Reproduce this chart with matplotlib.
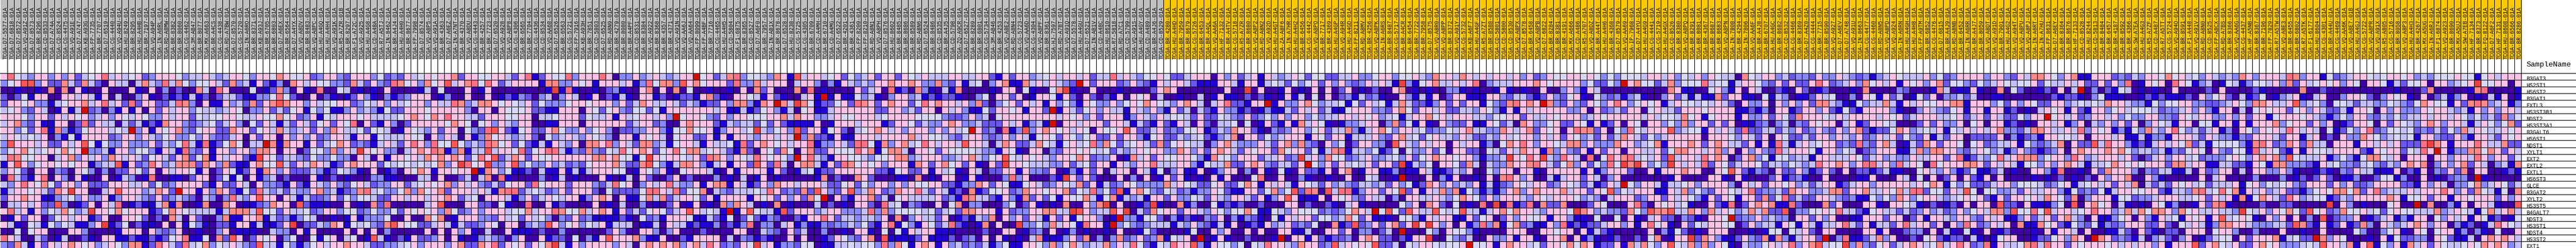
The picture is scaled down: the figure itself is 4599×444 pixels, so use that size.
import numpy as np
import matplotlib
matplotlib.use("Agg")
import matplotlib.pyplot as plt
from matplotlib.colors import ListedColormap, BoundaryNorm

GENES = ["B3GAT3","HS2ST1","HS6ST2","B3GAT1","EXTL3","HS3ST3B1","NDST2","HS3ST3A1","B3GALT6","HS6ST1","NDST1","XYLT1","EXT2","EXTL2","EXTL1","HS6ST3","GLCE","B3GAT2","XYLT2","HS3ST5","B4GALT7","NDST3","HS3ST1","NDST4","HS3ST2","EXT1"]

SAMPLES_GRAY = """D7-5577 D7-6818 D7-8572 VQ-A91Z D7-8573 BR-8296 CD-8533 D7-A74A CD-8524 CG-4475 VQ-A91E D7-A747 KB-A93G FP-7735 BR-7707 D7-6519 CG-4440 VQ-A94U HU-8249 BR-8295 HU-A4HB BR-7197 VQ-A94P IN-A6RL RD-A8MW BR-8382 BR-8060 CG-4462 3M-AB47 BR-8077 MX-A663 BR-A4CS CG-4438
RD-A7BW D7-8570 CG-5720 IN-A6RO BR-8371 KB-A93J BR-6705 BR-6803 D7-A6EX BR-6564 D7-A4YX VQ-A8DV BR-8483 VQ-A8PC HU-A4GQ HU-A4H4 VQ-A91K R5-A7ZR-01B BR-8297 F1-A72C VQ-A925 HU-A4G8 CD-A48A R7-A5TJ IN-8462 BR-A4J4 HU-A4H0 BR-8677 FP-7998 D7-8574 VQ-A8P5 VQ-A91A BR-4363 D7-A6EZ IN-A7NT BR-4370
VQ-A8DU CG-4443 BR-4257 BR-7723 D7-6520 VQ-A928 VQ-A8P8 CG-4306 BR-6565 BR-7704 CG-4436 CD-8534 VQ-AA68 D7-6526 BR-6563 CG-5721 FP-7916 KB-A93H BR-7851 CD-5803 D7-6525 RD-A8N9 BR-4279 BR-8080 BR-A4PF CD-8531 BR-8384 VQ-A922 BR-8368 BR-4357 BR-4371 VQ-A91N VQ-AA6J VQ-AA64 FP-8099 FP-A4BF
BR-7716 CG-4465 HU-A4H5 CD-5804 F1-6875 BR-8365 CD-8527 D7-A6F0 BR-7957 IN-AB1X BR-8678 D7-6528 HU-8238 CG-5725 CG-4305 BR-6709 CD-A4MH BR-6710 CD-A4MG D7-6522 BR-4201 BR-4361 FP-8209 FP-8210 RD-A8N1 VQ-A8PH D7-8576 HU-8602 BR-8485 BR-8686 BR-8589 RD-A8N6 D7-6524 BR-8486 CD-8535 BR-A4J5
CD-5798 ZQ-A9CR D7-6527 BR-8289 BR-6801 CG-5734 3M-AB46 BR-4253 VQ-A8E2 RD-A8N4 CG-5723 VQ-AA6D CG-4304 VQ-A8PF BR-8361 HJ-7597 RD-A7BT VQ-A91Q D7-5578 HU-A4GU D7-6521 IN-AB1V CD-A48C HU-8610 R7-5818 RD-A7C1 CD-5799 VQ-A91S HU-A4GY CD-A489 BR-A4J6 CD-8529""".split()

SAMPLES_GOLD = """BR-4280 HU-A4HD BR-7959 BR-8679
CG-5726 BR-6453 BR-A4QL VQ-AA6A HF-7132 BR-A4TV CG-5718 R5-A7ZR BR-8680 VQ-A8P2 RD-A8N2 VQ-A92D HU-A4GT ZA-A8F6 IN-A7HR HU-A4H2 BR-6456 CG-4442 VQ-A8PO BR-7717 BR-4369 HU-A4GP VQ-A94R HU-A4GD FP-8211 RD-A8MV BR-4256 VQ-A8PK IN-A6RS BR-8487 CG-5717 BR-A4CR BR-6454 BR-7722 BR-7958 D7-8575
VQ-A8R0 VQ-A8PP BR-8372 VQ-A91Y CG-5732 KB-A6F7 HU-A4GF R5-A7ZT BR-8588 CD-5801 CD-5800 CD-8530 VQ-A8PX D7-8578 BR-6458 VQ-A8PB D7-6822 BR-8284 BR-8381 BR-4191 MX-A666 CD-A486 R5-A707 VQ-A8DZ BR-A44T HU-A4H6 BR-4368 D7-8579 VQ-AA69 IP-7968 D7-A4YU HU-A4G9 CG-4441 CG-5719 HU-A4GX CD-8526
BR-8380 VQ-A8PQ BR-8291 BR-8081 BR-4367 BR-8687 BR-8683 VQ-A8PN IN-7808 BR-4294 IN-7806 VQ-AA6F BR-A4J8 BR-6707 HU-A4GC BR-8682 CD-8532 CG-4466 BR-8369 D7-A4Z0 CG-4444 BR-7715 BR-8590 VQ-A927 D7-A6EV D7-A748 VQ-A91U IN-8663 CG-4477 CG-4460 RD-A8N5 VQ-A8PD VQ-A924 IN-A6RN HU-A4GH HU-A4H8
FP-A9TM BR-6852 CG-4476 D7-6815 BR-A4J9 RD-A8NB BR-6452 IN-A6RR BR-A4J7 BR-8059 VQ-A8DT VQ-A91D BR-7901 HU-A4G2 VQ-A94T VQ-A8PU VQ-A8PJ IN-A6RT IN-A7HU FP-8631 D7-A6EY BR-8364 BR-8676 HF-7133 CD-8528 HU-8244 CD-5813 BR-8484 BR-6457 BR-4187 BR-8592 BR-4366 SW-A7EA HU-A4G3 R5-A7ZF CD-A487
R7-A5TT CG-5724 VQ-A94O BR-8591 F1-A448 VQ-A91V RD-A8N0 CD-8525 FP-A8CX RD-A7BS BR-8366 VQ-AA6G CG-4437 HF-A5NB BR-8367 BR-7196 FP-7829 R7-A5TW VQ-A8E3 BR-6455 BR-6802 R7-A5TK F1-6177 HU-8604 CG-4301 BR-A44U CG-4469 VQ-AA6K VQ-A8E7-01B HU-A4GJ CG-5722 VQ-A8PR VQ-A91X R5-A805 CG-5716 BR-8058 VQ-A8P3
HU-A4H3 BR-4267 MX-A5UG IN-A6RJ F1-6874 VQ-A923 BR-8690 MX-A5UJ SW-A7EB HF-7134 BR-8373 FQ-8122 D7-A6F2 HF-7131 HU-8608 BR-6566 BR-8286""".split()

# Expression bins, one letter per cell, in column blocks.
BLOCK_1 = """prvclpplpl pmcvprcpcv pmlpppvlcc pcl
lvpoolpmms cmscmdpccd csclrcsvlv vpc
ddbddbdsds dpbddpdddp bdpdldmdds cdr
mdmvbppddp pcpcbpdcdd lpbdmbmbcb mdm
mppvpllbcv ppscprcpmr mppmmcrsld pbb
cvplmpcdbp bcxmldlbpb pdpmpcpplv ccl
pppvlppmpc pvplcplpvc pvllpcppmv cvv
cpslmpbbpp dmrmpccdcm cbmbspplml cvm
pplvmprbsl bmvpppcvcx lpbpvpslmv ppm
cpvcvcpdlb vbppppmlpp lpclvpllvl plm
lopppcpmmp cpovbvllpl llpmclvrcb rbm
lvpsvcvpvs vpxllcbppl vvlbpcbrlm pbp
crsvvppdcp slpcplspcp cmvpcmpsmv sbp
bpoplvppvp vppblccobp mlrplcsssm spl
lpvmdppdlm dpvldldmmp vmpdpcppvb pdm
drcmbprdpl dpbddpdbcl dbrddbbdmp pdm
clprpvsvmp plpmmmpppc cpmvmlpppp mbp
bcppvpcmsp eppddcpopp plcspmxppb pls
mppsppbblc vlpllpblpp clmpmlclmd cld
dccpcpmmol dbmpdpcrdb mbbcsbsddb sdd
prcpbplvcs vlceppvsvp ppbmvspvcc ccb
dbpmppdmvp cppbmpddpp vmdmdscdpm ddl
pcbdvcbvlv cbblpebmvd mbbdpdpbvl bdm
ddvdvppddd pplddddbpp pdplmlpddb ddl
rpcddcmdbc ddmbdppbbm bbmbmvprbb vds
lmscbpmpcp spvplcpvls sbmrpcmrcv slv"""

BLOCK_2 = """cppvlppvsp vvpmlpplmp pplvmlmpcv pvppsm
mslcbpmbld spcpvvllms cmplmrsvpl svpocp
pdddvdbmsl dpbdrddvcd bdbdpddddb cdvddd
ccmbbllvrv mddpdmbdbm plbdlbmlpp pdbldd
plcmsmpsos pplpcvvppm lvcplpcvpp lpccrs
cpvdllpmcm vpbvlvbblp lclbvmmppp vppppp
ppvccpvvsv pmlpbvcppp vpccccvpsp vsprpp
cpldvmpcbc mpcmvpmpvr dpmbpldmpp pppvsp
msppmvpcsc lcpmplspcc vmvvcdbpvc lpmppd
mcpdpmppdp lplpmlppcb ppbvcccpvv dplpcd
vsvdccxsbs ppbpmcvspm lmbcpcmprp lrvvov
plpplsspdp pdmvvlslpc epvplldcps prsbls
cppmbepvmc clmvllvlld pcdpbppvpc spspsp
smbbpsvvoc mpcspcbmps pppmvcvvcv cvslpe
pvbmpbsplp mmmclbmvcl bdpdbmdpvs pbppvp
vbvdpblcdm dddpbdmdbd ddllbbdddc cdpddm
mmpcdpllmb pmbpclplmv pcmllppmcv pvpslp
pmbvmrclcm cllpslcbml srcvllvsls vpsmpp
lrclpoppdp cbcmmlpmvl vvcmmppcpp cppspm
spdbbmlspp dombbbddpd bdsmrddddd cpoddd
cssscovvmp ccvmlpplvv mlvllvmpvp vplsvm
sbbppsbcml blvcddbdbp blllvddpdd svsdbp
mbppbcbbmp edmmclspbv cvlmsopvvm mcpcbc
pdbbbddcll dpbpddddpd pdpdlddddd pdpdpl
mopdmpvpdl vddvbvpdcv dbocbdmbpm mlpdpb
cpclmoccbv lblvpcppsp pcmmllcvpl ppplps"""

BLOCK_3 = """ppvvppcmpr bmpvvrlppp rpdllplcpc lcppxv
srvrpmcppp pbssllpvpb pppcpblrvs slopsv
pdbpdddddd ddbebrbddb dmlbddpsdp dsdvdd
pddpdbmblm dlcdlpcdbp dmbcbdppbm dbmmbp
lcsspvpvcp mvlllvppvp pplpmcspcc pcmclb
ldppdpvvvp mmbbpppdpv mvplmvvmvb pppppp
ccmpppvvpp dccvpppmvc cpbpcvppcp lxvppv
vdvplpclpp ddbbpppdpp ppppmcppml ddpspp
vlmropmbvp mmpsvllplv pldmmllppl bvvsvv
pblsvpclcp mdvlcpclpv cldppbpvpc dvppmm
lclrsvpmvm bcbpclpdss prlpcmsslc bvppcb
bccocppvrm vprrcblmsl mvcrvpspmv prvssc
mvrpomcspm pvvpppppps spsvvbvepv ppvcpm
rvpellpolv llplcmlmvp ppscmmsovl bcsspl
pxbsplvbbm dcbbpbcbcp ppvvdbpvlp bdvppp
cdcsdrbddd dldbcdbddd pbdbcdpmdd mpdmdd
cplmcmvppm rvpppmpppl mcrvpdlpcp rcllpb
pcpcbsrrmc vcmlpmpppm dvmmmmvrrp crmvvs
cvdpppcblp mcpvcppblp spdpbbvscs mcppvm
ppmmdvbddr ddpbmddddp dbdcddldbd mpdbpd
lplpppcvvs cpprsvvscp spbpmcmvpv mcpopc
ppllmpcvmp cvldlmpmlb bbbmbdvmlb pppvbb
mmlpvdppdl cloplvplvc pbcccdbbcd pccbmb
pbdcddpbbb dmddlddddd dmplddppld lpdddm
dblclmdlpd dpbmmdvdlb popppslbbp ddmbpp
mmsprmpvpm pvsecbplpp pplpcdpsps pslpsc"""

BLOCK_4 = """pmcsrlvvcl spbocppcvp mvlcpmppmp vcpccc
pppmrllscp ppdcppldlb pclclppspp spllsl
bddbdpdsmp dddsdrdbdd ddpmcpdrbm dslbdc
smbdppvcbp mbddcpbxbp bbvlcbdlpp lcbmbm
mmplsslbsp xscesvbmmv pmrspmpspp mvrpsp
pcpbbcbmvp lbcdvpbbcp pppppmmppl cmppdp
lmplppvvvp pscsppllcp vvpppcvppp pvvvvl
pmbclccmvm pmbbbbpdbp ppcpppbmpp vmcllp
pblppcvecl vplomppbvp mdcvpspcpl ppplpl
pbpbppclpp cpcxlsmmbp bbpppcpppp scpvvc
pccvbrmpsp vpcpprbllp cmrrvbslps cvrpcp
vpcmbsmdpv msvdpsmmpv vvrpsbvssc dppvmp
rsplpvcrpv pvlxprclbp pvvclvvpss lcpppl
bcpbppmopm rcdpsscbpm rsvpvplppp bspmps
cbdpbppppb pmdbcvbmmp pppppmmbvp mmpbpc
dldbdcdbpd bdddddbsdm ddspmdddbb dsdbdp
pssbpcbmpl sppcpppcmm vpmvlpplpl pvvppm
dclmcccvcr pmlmsmoplm polcspmlsp prcmpc
pbppppbpvp mplpmsvxdp mbppsmcdvp ccccpm
bdslspcdbd sdbdddcdmd bdppmdrcvd lmddpd
vcbxbpovcc bomppplcpp lllcrlslvv vvcvmc
cmbvdmvmbl mddmbpprpm cclcclpdsd lpccmp
bldmblrdll dcpblbblml lclvmbprbv lbpvmc
ddddppddcl mdpmcddldd bdppbdvdvb pcppbb
ppdcdlmbmb ddpdpddbmp vlmpsdobbb bmpbbb
rpmlmpvecp bllmvvdbbc cvcvvlrlsv bpspbp"""

BLOCK_5 = """ppccppmbpm pplcvpcppc pmccrcpclv vpvmmc
mpbcvdlpsb bscpcpclmx pmpppmlplm bpcppc
bsddddbdpp dvbddvsebd dpdddbdddd mpspdd
mbddlvdppm pdbppvbpmd pmdmbpdpvp dcddbd
pcplsmdlvp mpcpbplvlb pvllplvpvs pvclps
cplbbvmppv pbppmxbpcm vplpccbpcl plbpmc
mmlplcdvpp ppppppcpvp lpmpppblpc lpcvvc
spllcmmmpc pblcbxdppc pppmppcbcm bpmbpc
pcvxpmldrb lolpspvpcp vdpvvpopmm cpmlmv
lmcpplmlpl pcbvpvmpvl vpmmpmpplb vpmmcl
pcoppcdcsp mmcsvcbvpc vrlsvmcvpc msmvpv
vvvvcllbpv bdppdlmppv pvcvmclcpv ppllsp
lcpsclvpov cpvpclppvs pmllpdbscp mpvvpp
vpmpbdpmep pvcccllpmc vmppbpclpp rcccpp
vbdpcdmmpp bpllmpdblb pmpdcppdpc bvdlpb
pdbpbdddlr lpdddmbepm pmdddpdldp dbpmpb
mbllspmpvb bvpcmlpvcs mpbcmlpvll llscpv
bmdsbmvvpm lsppvppsmv crlvmobpsv lmvcml
lbrsccmbpl bsmpmvbpvv scbvsbclcb ppmpll
vsdllddd lv dmpbdbdsdd plsedpddbm ebddsb
vmsspppbpm llppsscceo plccopedcm svppmp
dbmbclsdpl pmpcbpmpbv ppldbxllbv vmdlbm
rmbdbsdpdd ellvlscpvb rppbxlvlml cccbcl
bddddmddpp dbmldpdbld bddbdpddbv mddddb
mdmldpdpbd bdcsbbblpm sdldlsmlpm lsbvcp
lcmlmcblvb bppvlslvsc lccslpcrvm bvcrpp"""

BLOCK_6 = """pppdplpmcp bpclcpvmvv mmccpllvpp lvvpcl
mbbbppcbpp bcvcmvlvpm plplmlpcpc belbvp
dddddpdded pddbpdbdpd pdmpdbdmdd psdbdb
dcdbpbbdmd mbdbpbcdvd pdmlbcmlbd dplbcb
pcdcprmmbp pxbpllpsvl ccvbvmpcvb cscmmb
dcmbpllbmd blbbcmpcpm cbbvpppllm psvmpp
mpmmvclmpm lvlplpplvl ccppcpvplc vbcpps
dpmdccvdvd bpmbpbscpv bdbllcppdl smvbpb
vpbmclsppm bdlmlpplvp mccslbcpsv lppcvm
cvmblcsdpp mvlcpppbpv mppbcccplm pscvmv
ccdlpsclll pcmpslslmd plvdmpplld opclpc
lpmpspcmpv ppmsvppmvb csrbcclvbm vdvllp
vlbsvvlppp mccpmlecpl svvmlcpllc vlpmvp
lbvccsmmps plmccmpxvl pmpcvcpmpp mebclv
bpdblppdld pbdvbdpmmb pdpsdbppbb ldbbpc
dbdpbpdddv rddpddlbdd bddpddvcdd bxdddp
cmmvpmmvsp bpcpcbpvcm plclmcclcm plvbms
bllpvmbbpp mvslvomrsd ocrrblppmp vompbp
vcmpclppcm pblpopbbbp dpvplmpccd ldppcc
lddvbmbmdd mdddppdmdd mbdcpbdddd dvlpds
pclpvlvvsv bbvclpvvvm lmlvspcxvo vmopcc
bdlmpdlblm bdvbpcppmv vlcsvmpbbb dvvlbp
plmbcbpdbm bplcpmlmvd dsbmomlpmp smpepe
vddplpddpd pddppbbcdd ppmpdlldmc dxdddv
dxdbpbddmd ddbxdppbpm bmmldpspmm dmbppe
olbpvvlvdv crppclsppm locpvpvomm cdvcpp"""

BLOCK_7 = """sppcspcpcp pcplpmlpvv ppvpvlvlvv vcppcp
sccpcprdlc ccpppspvpp pplvmmvlxp svvmcs
ddllbdbddb pbdbddpddl plbpcddddd ddddds
pdmppbbbpp lmccmbmplm vpbdvlmlbl cbddlp
lpmpmppbvl msrpspxslm plmpvlprpl vpvpbc
cpmmcclpvl bpbpcppppp llpdpmlcmp pdvpcc
vpcpppcclv vppmpccpvp pplcpvpppp pcpcvv
dplmmpbbpv mcdspllvpm mpvbpbmpdp vdpplv
llvcpsccll spcpsmpvpd prssmpdvlr vcpppo
pcclpcmmcl pcvpplpcpm pvlcmpmcsp cmvlcp
ppdpcppbld vsprplppvc sslplllspp lcvsbp
mvdppmmdvc mpcsppbslp lmpbpmppdp pccpmv
sppvpplbll cepvrpeclr pcdrdvrpsr cvcpmo
dppvmscdcl lsppsrpcmv slpmvlrves eplvle
bbmclpddvl ppdppbdppp ppbpblpppm ddpbpp
dlbpddbdpd srplpddcbc ppmpcdlpdd dddddb
plplclpbcb mlpvcppmlp vcmcbmpcxv lppcbc
cslsbvlblb lpslpsppps cppmpvolvc pppbbp
pclvspvmpl pppclpvcpp pvlcldcppp mlppmp
pmdvdbdrde drbmrdsmms dddmpvdddp rmdpvp
ovcvoccbcp svsppclppp vesplcllms vlosso
cppbbpmvpd mplpvvpbpp lbbdvddvdp bdcpmm
plpdpblrls bvsmlbbplr bmbmmcpplp bprvpb
ldpvvlbddd dpppddppvp pdpbcmbddd ddpdlb
ddvlmcddpl lpbppbdpps dpblbdbmdd mdvsdb
vcvvpxvvpb psppcvmppv svspbmmpbs csvlpo"""

BLOCK_8 = """lvcplpvccd svcpplcmll mpllpclmlb lcpvcc
lvvvrcvvbc ppvlmpmpmm prpmlcplsv pcpbpv
pbbddvplbp dpcddmbdpm dbmdddbdsd dddlmd
mcbcbbsmpp bbdvbcldbb mpcvddldpv bpmcdb
pvvcvcpcmd pllpdplplp mssclbbvlc cscbpc
mpppvppppb bmbldppbmp plpmbvmbpp pplbdd
csvpbvpppb pllpmpvmsp ppvcpcpppp cpvpmc
lslppmpmpd bbmldlcdlm pvppdcpbmp pvcddd
lcvvbpcpcm rmmccmclpm lplmplpsmb mmvspl
ppppdpppvl pcmpdpvmmc mpplpclpml pcpmvl
ppspmpspcc mpbpbrcbcp cvppmlmrlm pscdbc
ssppcpslpd plplmrcppp vbpplvcdml pppbbc
cppcrpspdm pslvbvvlcc bppcccpvmc plcllp
pcpcrmpvmc ppvmcclvcl crppsplprr cplrcp
psppddpvop mblmdpmmpl bmpmdpdmmb mcbbdd
pddddppbdp bdddmpbmlb ddpddddbbp dddpcd
cvplppppld pcpmppvplc mcppbmcppl pppppc
cslvlmppvc prmllcmspp llcssmppsc cpvscr
cpvlbpmpvb ppmsmvrmcm mppclmlbbv lvlspl
cvbddpmbrd mpspsbbrmd ddsmpdddpp bdppvc
ccsplscpvl cscsmmodll vvpvrccmbv pccmcm
dlmbdppvxm llplclldpp mplpddbbpp pmppdm
dpmvcppvvd mplccbpvbp cbccprcmpb ccmprc
vmdbdpppdd dbdbvvdvcp mdppddddpp bpddml
ppemsplbbm plmsbslbcp pmxdlrbbmc slpddm
vcslslpvbd cllvpcprlp socvvelslm vpmcps"""

BLOCK_9 = """cplvmlpppp lpplmpcssp vlpsbbpppm lmclpp
plpsmvvlmv lcpvcvvpmv ccpcpmmpmp lrdbpv
ddbscdbbpb ddsdvmddbm dpdcxdldmb vcdbdb
vmpdllcmcd dbbddddddd mbmmbdlvbb bddbmb
pvvppssbpp plvmplpvmm pplcvcvcsp pcllbv
lpclmvpbpp bppbmdbdcp vpbpmbpplv pcvvvc
pppccvpmcp mpcmmvlppx vpcpmlppcp lvllpp
mpmpllpdvp dppbmdbdpp cpblpdclpl pmpdlp
cvcpbvcpcp cpsllmcssp ccpcrlpvpb lbvlsc
mpbcmppdmm mmpdlbmlbp pvvcpdpppc pbbcbl
mspmppvdvp mlccpbvlml csdpmmocrp plbmbc
slsspplmcp vlcblplmbm lpdpspppsp svlccl
ccppmprbmc lvrcpssslv pplrplcppp cpmdmc
vdrvpppssp mpcpcbvvlp lpspcbccvs pvpvpp
vpclplbmvb bmcdbddppl brddbdpmsp ppldlm
vdpdmpdpmb pdpddddbdb dmdbdmdplp psddpl
pvspbvlvmm mcpplvvvcm lvpbcvpcpm pcsdcm
rmvvmpcovd vvllcmpccp plbvmlmvbc ppvvpp
vppclcvpvp mbpmppvpcs pvmsdlpppb vvmllc
bdmdbmdpdp pdommdpbbb lvdodpsvpd cbdbdp
lplcmlplvp csslovvrvo cppcvprppl cscsvs
pbppclpplm pcpbblpmcp mpscldpbbl vpdplb
ppmpdplrpm lpcpdsbbsv pmbvlmvblm lpppmm
ldpdcbdvbd pdbmdddbdp bppcdpddbb cmdpmb
dvpmbmmdcb dbvppddbmm vplspdxspm lmbcdl
pcvscprpml rbpccvsrcr ppmpvpppvp cpcppl"""

BLOCK_10 = """vsvpcvlpcl clsplpppcr slppbvmlcp pvcvpp v
pdrpvblcdb vcblvvcpls mpcvpvplpv dppvbc m
ddpddddmdp ddddmbdddd dsddmddddd dddddb d
mbbbmdplvp mdcbmvdblc pbdcpddlpp vmdlpv p
lvvppllmml cpvlsspccp olcvldvvcm ccllvc l
mllcplplbp pdcdvpvppm vplpcmmcbp pvdplp l
llmpvcppll plpmppbvpp pvpclblvlp plmclv l
vcbppdvvbp pbpbpppslv ppmplpdbmp pvdpmp v
lprvlcmcpb ldpvlpvpcr pcpcdvbmvl prmlvv c
lbpppcmpcl lblmpppcmp pbcpdmdpll spvlcv c
pcpvsmcbvv vvlbsrpmls pmsccdpppb ppcpcp m
cblmvpvdpl mvvbrcpvmb pbpvvcpppp mbpvpp m
plppcvmlll vpvlpspslo vcccpblvlb vssvcp d
pmsscppbbc cmmbpvbssl llmbpcvllm cvlmcl p
ccbbcdpmlp pdcdppllpl bddbmbdlmp ccbbbp d
bdddddpdcp ddddldddld bmdmpmdbbl ddmvvb l
cmpvpcvmcc cpbvplvcvp lmpppmplpm mlpppp m
mbcclsrcvr vsbpcplcpm mblvpvssvs mprlcc c
pppccvpmpc pbsbvspcmr plcvvbmclp ppppsp b
vblddbpmsr bddddmddmm dddddedpld bdddvp d
splsvpccpc clevcplpvs vmovpmlsvv pcvmvp v
pcvbpvpbpo cvpvbdplpd pdldodmllp dbmcpb l
pmdvcpcbls sppclllccm osmbpbmpbm sldpcl c
dmmdpppdvp plddldddpd dbddpddddv lddlvp b
cmdlpdbmcv vdpmpppsbc vmmxslpvdd dbdpbv m
pbpppompsv cpmmpsvpll lcvcoppcsb pobvlp b"""

BLOCK_11 = """plclvvvpvv bvpcppp
vvpdpplcvp evvppdp
ddmsddddd bsrddddb
bdpdmcblpd bdcbpdb
mvspvvbpms rslcpbl
llpvppclcb plplppc
ccpcppcpvl vlcmslv
clpsplppcb cpvlvsm
vmlmcmvlsc pvccpvp
vbpplmmplb ppcmpvp
mmrespbppp rpccsmm
vcrpxpbllss vspmpc
pppdpplppc rplppmv
spsdlplpsm pcdlcbs
mbpdlmpmsd ppddbmb
ddpdbdmlld xbddddd
mbplpcdllv slcpvmc
pcppprplpm svcbvds
vvpmppbppv pppmplp
dxdsddlbpd ppcbddo
vcccslcpvc bvscpsc
bppdvlpcpb pvbmdbv
psplppdlbm dbcrpvc
dpvdvppbld lbdvddp
mlldpvmbbc dpspspc
scpmpvccvp vspsplc"""

BLOCKS = [BLOCK_1, BLOCK_2, BLOCK_3, BLOCK_4, BLOCK_5, BLOCK_6, BLOCK_7, BLOCK_8, BLOCK_9, BLOCK_10, BLOCK_11]

LEVELS = "dbmlcvpsroex"
COLORS = ["#4000A8", "#2200D4", "#6A55EE", "#8888FF", "#C4BEFF", "#D8D8FF",
          "#FFC0E6", "#FF8888", "#FF6E82", "#FF5555", "#EE4040", "#D60C00"]
HEADER_COLORS = ["#C0C0C0", "#FFC800"]

rows = ["" for _ in GENES]
for b_i, block in enumerate(BLOCKS):
    lines = block.split("\n")
    assert len(lines) == len(GENES), (b_i, len(lines))
    for i, line in enumerate(lines):
        rows[i] += line.replace(" ", "")
for r in rows:
    assert len(r) == len(rows[0]), [len(x) for x in rows]

values = np.array([[LEVELS.index(ch) for ch in r] for r in rows])
samples = SAMPLES_GRAY + SAMPLES_GOLD
groups = np.array([[0] * len(SAMPLES_GRAY) + [1] * len(SAMPLES_GOLD)])
assert values.shape == (len(GENES), len(samples)), (values.shape, len(samples))
labels = ["TCGA-" + s + ("" if s.count("-") == 2 else "-01A") for s in samples]

W, H = 4599, 444
PX = 12.0                      # one column / row in pixels
LEFT, TOP = 0.5, 131.5         # where cell (0, 0) starts
fig = plt.figure(figsize=(W / 100, H / 100), dpi=100, facecolor="white")
ax = fig.add_axes([0, 0, 1, 1])
ax.set_xlim(-LEFT / PX, (W - LEFT) / PX)
ax.set_ylim((H - TOP) / PX, -TOP / PX)
ax.axis("off")

nrow, ncol = values.shape
px_y = lambda y: (y - TOP) / PX

ax.pcolormesh(np.arange(ncol + 1), np.arange(nrow + 1), values,
              cmap=ListedColormap(COLORS),
              norm=BoundaryNorm(np.arange(len(COLORS) + 1) - 0.5, len(COLORS)),
              antialiased=False, zorder=1)
ax.pcolormesh(np.arange(ncol + 1), [ax.get_ylim()[1], px_y(106)], groups,
              cmap=ListedColormap(HEADER_COLORS), vmin=0, vmax=1,
              antialiased=False, zorder=1)

ymax, ymin = ax.get_ylim()
ax.vlines(np.arange(1, ncol + 1), ymin, ymax, color="black", lw=0.72, antialiased=False, zorder=3)
ax.hlines(np.arange(0, nrow + 1), ax.get_xlim()[0], ax.get_xlim()[1], color="black", lw=0.72,
          antialiased=False, zorder=3)

FONT = "Liberation Mono"
for i, lab in enumerate(labels):
    ax.text(i + 1 - 0.3 / PX, px_y(105.5), lab, rotation=90, rotation_mode="anchor",
            ha="left", va="baseline", family=FONT, fontsize=7.13, color="black", zorder=2)
for i, g in enumerate(GENES):
    ax.text(ncol + 10 / PX, i + 1, g, ha="left", va="baseline",
            family=FONT, fontsize=7.13, color="black", zorder=2)
ax.text(ncol + 10 / PX, px_y(119), "SampleName", ha="left", va="baseline",
        family=FONT, fontsize=9.5, color="black", zorder=2)

fig.savefig("out.png", dpi=100, facecolor="white")
